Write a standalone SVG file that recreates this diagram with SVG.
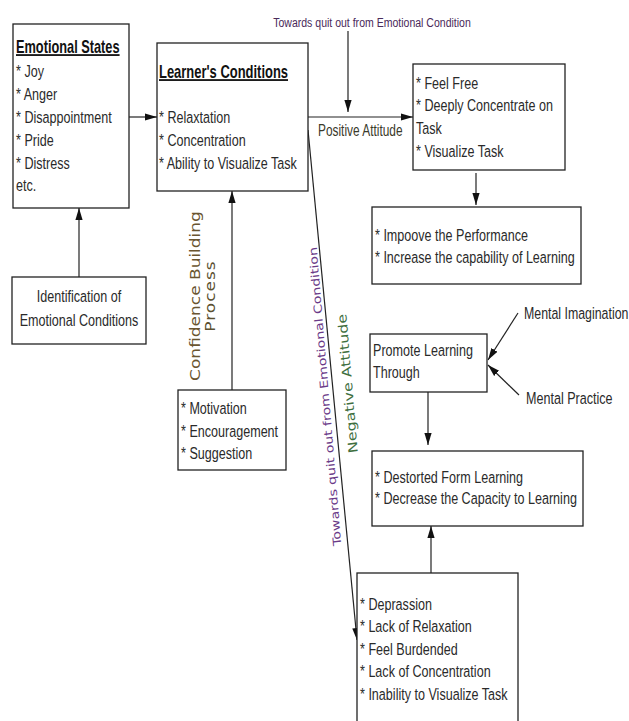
<svg xmlns="http://www.w3.org/2000/svg" width="629" height="721" viewBox="0 0 629 721">
<style>
.box{fill:#fff;stroke:#222;stroke-width:1.3}
.t{font-family:"Liberation Sans",Arial,sans-serif;font-size:17px;fill:#2a2a2a}
.b{font-family:"Liberation Sans",Arial,sans-serif;font-size:18px;font-weight:bold;fill:#111;text-decoration:underline}
.w{font-family:"DejaVu Sans",sans-serif}
.ln{stroke:#222;stroke-width:1.2;fill:none}
</style>
<defs>
<marker id="ah2" viewBox="0 0 10 10" refX="10" refY="5" markerWidth="12" markerHeight="12" orient="auto" markerUnits="userSpaceOnUse">
<path d="M0,2 L10,5 L0,8 z" fill="#111"/>
</marker>
</defs>
<rect width="629" height="721" fill="#fff"/>
<g id="connectors">
<line class="ln" x1="129" y1="117" x2="157" y2="117" marker-end="url(#ah2)"/>
<line class="ln" x1="79" y1="277" x2="79" y2="208" marker-end="url(#ah2)"/>
<line class="ln" x1="232" y1="390" x2="232" y2="191" marker-end="url(#ah2)"/>
<line class="ln" x1="348" y1="31" x2="348" y2="112" marker-end="url(#ah2)"/>
<line class="ln" x1="308" y1="117" x2="413" y2="117" marker-end="url(#ah2)"/>
<line class="ln" x1="476" y1="173" x2="476" y2="205" marker-end="url(#ah2)"/>
<line class="ln" x1="308" y1="130" x2="357" y2="640" marker-end="url(#ah2)"/>
<line class="ln" x1="518" y1="313" x2="488" y2="360" marker-end="url(#ah2)"/>
<line class="ln" x1="519" y1="395" x2="488" y2="365" marker-end="url(#ah2)"/>
<line class="ln" x1="428" y1="392" x2="428" y2="445" marker-end="url(#ah2)"/>
<line class="ln" x1="431" y1="573" x2="431" y2="526" marker-end="url(#ah2)"/>
<text class="t" transform="translate(372,27) scale(0.78,1)" text-anchor="middle" style="font-size:13.5px;fill:#4a2a5a">Towards quit out from Emotional Condition</text>
<text class="t" transform="translate(318,136) scale(0.7,1)" style="fill:#3a3a2a">Positive Attitude</text>
<text class="w" transform="translate(200,296) scale(0.8,1) rotate(-90)" text-anchor="middle" style="font-size:17px;fill:#6a5530">Confidence Building</text>
<text class="w" transform="translate(215,296) scale(0.8,1) rotate(-90)" text-anchor="middle" style="font-size:17px;letter-spacing:1px;fill:#5a5030">Process</text>
<text class="w" transform="translate(329,396) scale(0.8,1) rotate(-95.9)" text-anchor="middle" style="font-size:14.1px;fill:#6a3a88">Towards quit out from Emotional Condition</text>
<text class="w" transform="translate(352,383) scale(0.8,1) rotate(-95.9)" text-anchor="middle" style="font-size:15.9px;fill:#3f6f3f">Negative Attitude</text>
</g>
<g id="emotional-states">
<rect class="box" x="13" y="24" width="116" height="184"/>
<text class="b" transform="translate(16,53) scale(0.71,1)">Emotional States</text>
<text class="t" transform="translate(16,77) scale(0.74,1)">* Joy</text>
<text class="t" transform="translate(16,100) scale(0.74,1)">* Anger</text>
<text class="t" transform="translate(16,123) scale(0.74,1)">* Disappointment</text>
<text class="t" transform="translate(16,146) scale(0.74,1)">* Pride</text>
<text class="t" transform="translate(16,169) scale(0.74,1)">* Distress</text>
<text class="t" transform="translate(16,191) scale(0.74,1)">etc.</text>
</g>
<g id="learners-conditions">
<rect class="box" x="157" y="43" width="151" height="148"/>
<text class="b" transform="translate(159,78) scale(0.72,1)">Learner's Conditions</text>
<text class="t" transform="translate(159,123) scale(0.74,1)">* Relaxtation</text>
<text class="t" transform="translate(159,146) scale(0.74,1)">* Concentration</text>
<text class="t" transform="translate(159,169) scale(0.74,1)">* Ability to Visualize Task</text>
</g>
<g id="identification">
<rect class="box" x="12" y="277" width="134" height="67"/>
<text class="t" transform="translate(79,302) scale(0.74,1)" text-anchor="middle">Identification of</text>
<text class="t" transform="translate(79,326) scale(0.74,1)" text-anchor="middle">Emotional Conditions</text>
</g>
<g id="motivation">
<rect class="box" x="178" y="390" width="108" height="80"/>
<text class="t" transform="translate(181,414) scale(0.74,1)">* Motivation</text>
<text class="t" transform="translate(181,437) scale(0.74,1)">* Encouragement</text>
<text class="t" transform="translate(181,459) scale(0.74,1)">* Suggestion</text>
</g>
<g id="feel-free">
<rect class="box" x="413" y="64" width="152" height="106"/>
<text class="t" transform="translate(416,89) scale(0.74,1)">* Feel Free</text>
<text class="t" transform="translate(416,111) scale(0.74,1)">* Deeply Concentrate on</text>
<text class="t" transform="translate(416,134) scale(0.74,1)">Task</text>
<text class="t" transform="translate(416,157) scale(0.74,1)">* Visualize Task</text>
</g>
<g id="improve">
<rect class="box" x="372" y="207" width="209" height="77"/>
<text class="t" transform="translate(375,241) scale(0.74,1)">* Impoove the Performance</text>
<text class="t" transform="translate(375,263) scale(0.74,1)">* Increase the capability of Learning</text>
</g>
<g id="promote">
<rect class="box" x="370" y="334" width="117" height="58"/>
<text class="t" transform="translate(373,356) scale(0.74,1)">Promote Learning</text>
<text class="t" transform="translate(373,378) scale(0.74,1)">Through</text>
</g>
<g id="mental-imagination">
<text class="t" transform="translate(524,319) scale(0.727,1)">Mental Imagination</text>
</g>
<g id="mental-practice">
<text class="t" transform="translate(526,404) scale(0.74,1)">Mental Practice</text>
</g>
<g id="destorted">
<rect class="box" x="372" y="451" width="211" height="75"/>
<text class="t" transform="translate(375,483) scale(0.74,1)">* Destorted Form Learning</text>
<text class="t" transform="translate(375,504) scale(0.74,1)">* Decrease the Capacity to Learning</text>
</g>
<g id="depression">
<rect class="box" x="357" y="573" width="161" height="160"/>
<text class="t" transform="translate(360,610) scale(0.74,1)">* Deprassion</text>
<text class="t" transform="translate(360,632) scale(0.74,1)">* Lack of Relaxation</text>
<text class="t" transform="translate(360,655) scale(0.74,1)">* Feel Burdended</text>
<text class="t" transform="translate(360,677) scale(0.74,1)">* Lack of Concentration</text>
<text class="t" transform="translate(360,700) scale(0.74,1)">* Inability to Visualize Task</text>
</g>
</svg>
